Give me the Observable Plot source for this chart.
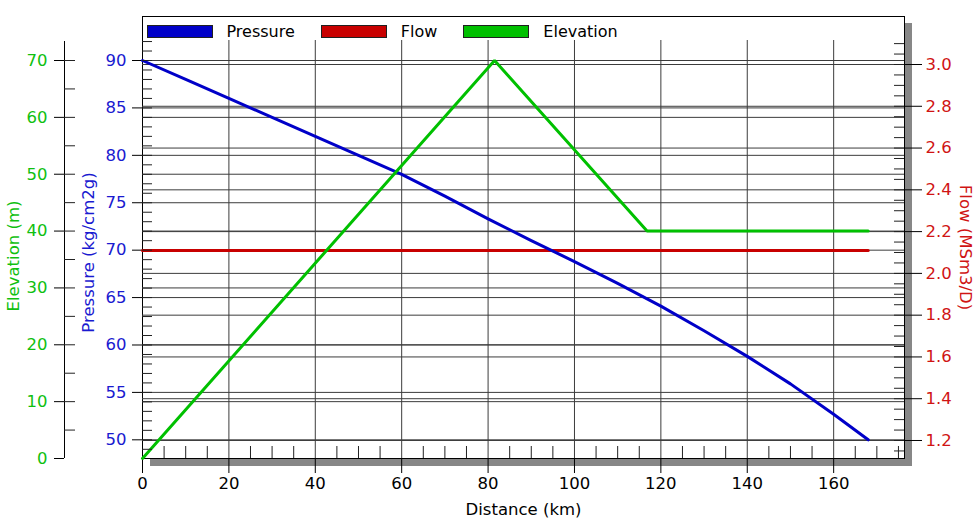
<!DOCTYPE html>
<html>
<head>
<meta charset="utf-8">
<script src="https://cdn.jsdelivr.net/npm/d3@7"></script>
<script src="https://cdn.jsdelivr.net/npm/@observablehq/plot@0.6"></script>
<style>
  html, body { margin: 0; padding: 0; background: #fff; }
  #chart { position: relative; width: 974px; height: 521px; overflow: hidden; font-family: "DejaVu Sans", sans-serif; }
  .legend { position: absolute; left: 143px; top: 17px; width: 760px; height: 23px; background: #fff;
            font-size: 16px; color: #000; }
  .legend .row { position: absolute; left: 0; top: 8px; display: flex; align-items: center; height: 13px; }
  .legend .item { display: flex; align-items: center; margin-right: 26px; }
  .legend .item:first-child { margin-left: 3.5px; }
  .legend .sw { width: 64px; height: 11px; border: 1px solid #202020; margin-right: 14px; }
  .shadow { position: absolute; background: #878787; }
  .etitle { position: absolute; white-space: nowrap; font-size: 16.5px; color: #10c010;
            transform: translate(-50%, -50%) rotate(-90deg); }
</style>
</head>
<body>
<div id="chart"></div>
<script>
// ---------- data ----------
const distance = [0, 10, 20, 30, 40, 50, 60, 70, 80, 90, 100, 110, 120, 130, 140, 150, 160, 168];
const pressure = [90, 88.0, 86.0, 84.0, 82.0, 80.0, 78.0, 75.7, 73.3, 71.0, 68.8, 66.5, 64.1, 61.5, 58.8, 55.9, 52.7, 50.0];

const flowDistance = [0, 168];
const flow = [2.11, 2.11];

const elevDistance = [0, 81.5, 116.8, 168];
const elevation = [0, 70, 40, 40];

const seriesNames = ["Pressure", "Flow", "Elevation"];
const xTitle = "Distance (km)";
const pressureTitle = "Pressure (kg/cm2g)";
const flowTitle = "Flow (MSm3/D)";
const elevTitle = "Elevation (m)";

// tick labels
const xTicks = [0, 20, 40, 60, 80, 100, 120, 140, 160];
const pressureTicks = [50, 55, 60, 65, 70, 75, 80, 85, 90];
const flowTicks = [1.2, 1.4, 1.6, 1.8, 2.0, 2.2, 2.4, 2.6, 2.8, 3.0];
const elevTicks = [0, 10, 20, 30, 40, 50, 60, 70];

// minor tick positions (decoration)
const xMinor = d3.range(5, 176, 5).filter(v => v % 20 !== 0);
const pressureMinor = d3.range(49, 93, 1);
const flowMinor = d3.range(23, 63, 1).map(v => +(v * 0.05).toFixed(2));
const elevMinor = [5, 15, 25, 35, 45, 55, 65];

// scale domains
const xDomain = [0, 176.4];
const pressureDomain = [48.03, 94.64];
const flowDomain = [1.1138, 3.2298];
const elevDomain = [0, 77.74];

// colours
const cPressure = "#0000c8", cFlow = "#c80000", cElev = "#00c000";
const tPressure = "#1a1ad0", tFlow = "#d01414", tElev = "#10c010";
const gridColor = "#3c3c3c";

// ---------- layout ----------
const W = 974, H = 521;
const chart = document.getElementById("chart");
const baseStyle = {background: "transparent", overflow: "visible", fontFamily: "DejaVu Sans, sans-serif", fontSize: "16.5px", color: "#000"};

function layer(opts) {
  const svg = Plot.plot(Object.assign({
    width: W, height: H,
    marginLeft: 142, marginRight: 70, marginTop: 16, marginBottom: 63,
    style: baseStyle
  }, opts));
  svg.style.position = "absolute";
  svg.style.left = "0px";
  svg.style.top = "0px";
  chart.appendChild(svg);
  return svg;
}
function div(cls, css) {
  const d = document.createElement("div");
  d.className = cls;
  Object.assign(d.style, css || {});
  chart.appendChild(d);
  return d;
}

// shadow of the plot frame
div("shadow", {left: "905px", top: "23px", width: "7px", height: "443px"});
div("shadow", {left: "150px", top: "459px", width: "762px", height: "7px"});

// 1. pressure scale: grid, x axis, left axis, titles, frame
layer({
  x: {domain: xDomain},
  y: {domain: pressureDomain},
  marks: [
    Plot.ruleX(xTicks.slice(1), {stroke: gridColor}),
    Plot.ruleY(pressureTicks, {stroke: gridColor}),
    Plot.axisX(xTicks, {anchor: "bottom", tickSize: 15, tickPadding: 4, stroke: "#000", fill: "#000", label: null}),
    Plot.axisY(pressureTicks, {anchor: "left", tickSize: 10, tickPadding: 6, stroke: "#000", fill: tPressure, label: null}),
    Plot.text([pressureTitle], {text: d => d, frameAnchor: "left", textAnchor: "middle", rotate: -90, dx: -54, dy: 15, fill: tPressure}),
    Plot.text([xTitle], {text: d => d, frameAnchor: "bottom", dy: 56, fill: "#000"}),
    Plot.frame({stroke: "#000"})
  ]
});

// 2. elevation grid
layer({
  x: {domain: xDomain, axis: null},
  y: {domain: elevDomain, axis: null},
  marks: [Plot.ruleY(elevTicks.slice(1), {stroke: gridColor})]
});

// 3. flow grid + right axis + title
layer({
  x: {domain: xDomain, axis: null},
  y: {domain: flowDomain},
  marks: [
    Plot.ruleY(flowTicks, {stroke: gridColor}),
    Plot.axisY(flowTicks, {anchor: "right", tickSize: 17, tickPadding: 4, stroke: "#000", fill: tFlow, label: null, tickFormat: d3.format(".1f")}),
    Plot.text([flowTitle], {text: d => d, frameAnchor: "right", textAnchor: "middle", rotate: 90, dx: 61, dy: 10, fill: tFlow})
  ]
});

// 4-6. data lines
layer({
  x: {domain: xDomain, axis: null},
  y: {domain: flowDomain, axis: null},
  marks: [Plot.line(flowDistance.map((d, i) => ({d, v: flow[i]})), {x: "d", y: "v", stroke: cFlow, strokeWidth: 3})]
});
layer({
  x: {domain: xDomain, axis: null},
  y: {domain: pressureDomain, axis: null},
  marks: [Plot.line(distance.map((d, i) => ({d, v: pressure[i]})), {x: "d", y: "v", stroke: cPressure, strokeWidth: 3})]
});
layer({
  x: {domain: xDomain, axis: null},
  y: {domain: elevDomain, axis: null},
  marks: [Plot.line(elevDistance.map((d, i) => ({d, v: elevation[i]})), {x: "d", y: "v", stroke: cElev, strokeWidth: 3, strokeLinejoin: "miter"})]
});

// 7-9. inner minor ticks
layer({
  marginLeft: 142, marginRight: W - 152,
  x: {domain: [0, 1], axis: null},
  y: {domain: pressureDomain, axis: null},
  marks: [Plot.tickY(pressureMinor, {stroke: "#222"})]
});
layer({
  marginLeft: 894, marginRight: 70,
  x: {domain: [0, 1], axis: null},
  y: {domain: flowDomain, axis: null},
  marks: [Plot.tickY(flowMinor, {stroke: "#222"})]
});
layer({
  marginTop: 446,
  x: {domain: xDomain, axis: null},
  y: {domain: [0, 1], axis: null},
  marks: [Plot.tickX(xMinor, {stroke: "#222"})]
});

// 10. outer elevation axis
layer({
  marginLeft: 64, marginRight: W - 75, marginTop: 41,
  x: {domain: [0, 1], axis: null},
  y: {domain: elevDomain, range: [458, 16]},
  marks: [
    Plot.ruleX([0], {stroke: "#000"}),
    Plot.tickY(elevMinor.concat(elevTicks.slice(1)), {stroke: "#222"}),
    Plot.axisY(elevTicks, {anchor: "left", tickSize: 10, tickPadding: 7, stroke: "#000", fill: tElev, label: null})
  ]
});

// legend strip inside the top of the frame
const legend = div("legend");
const row = document.createElement("div");
row.className = "row";
legend.appendChild(row);
const legendColors = [cPressure, cFlow, cElev];
seriesNames.forEach((name, i) => {
  const item = document.createElement("div");
  item.className = "item";
  const sw = document.createElement("div");
  sw.className = "sw";
  sw.style.background = legendColors[i];
  const t = document.createElement("span");
  t.textContent = name;
  item.appendChild(sw);
  item.appendChild(t);
  row.appendChild(item);
});

// elevation axis title
const et = div("etitle", {left: "13px", top: "256px"});
et.textContent = elevTitle;
</script>
</body>
</html>
